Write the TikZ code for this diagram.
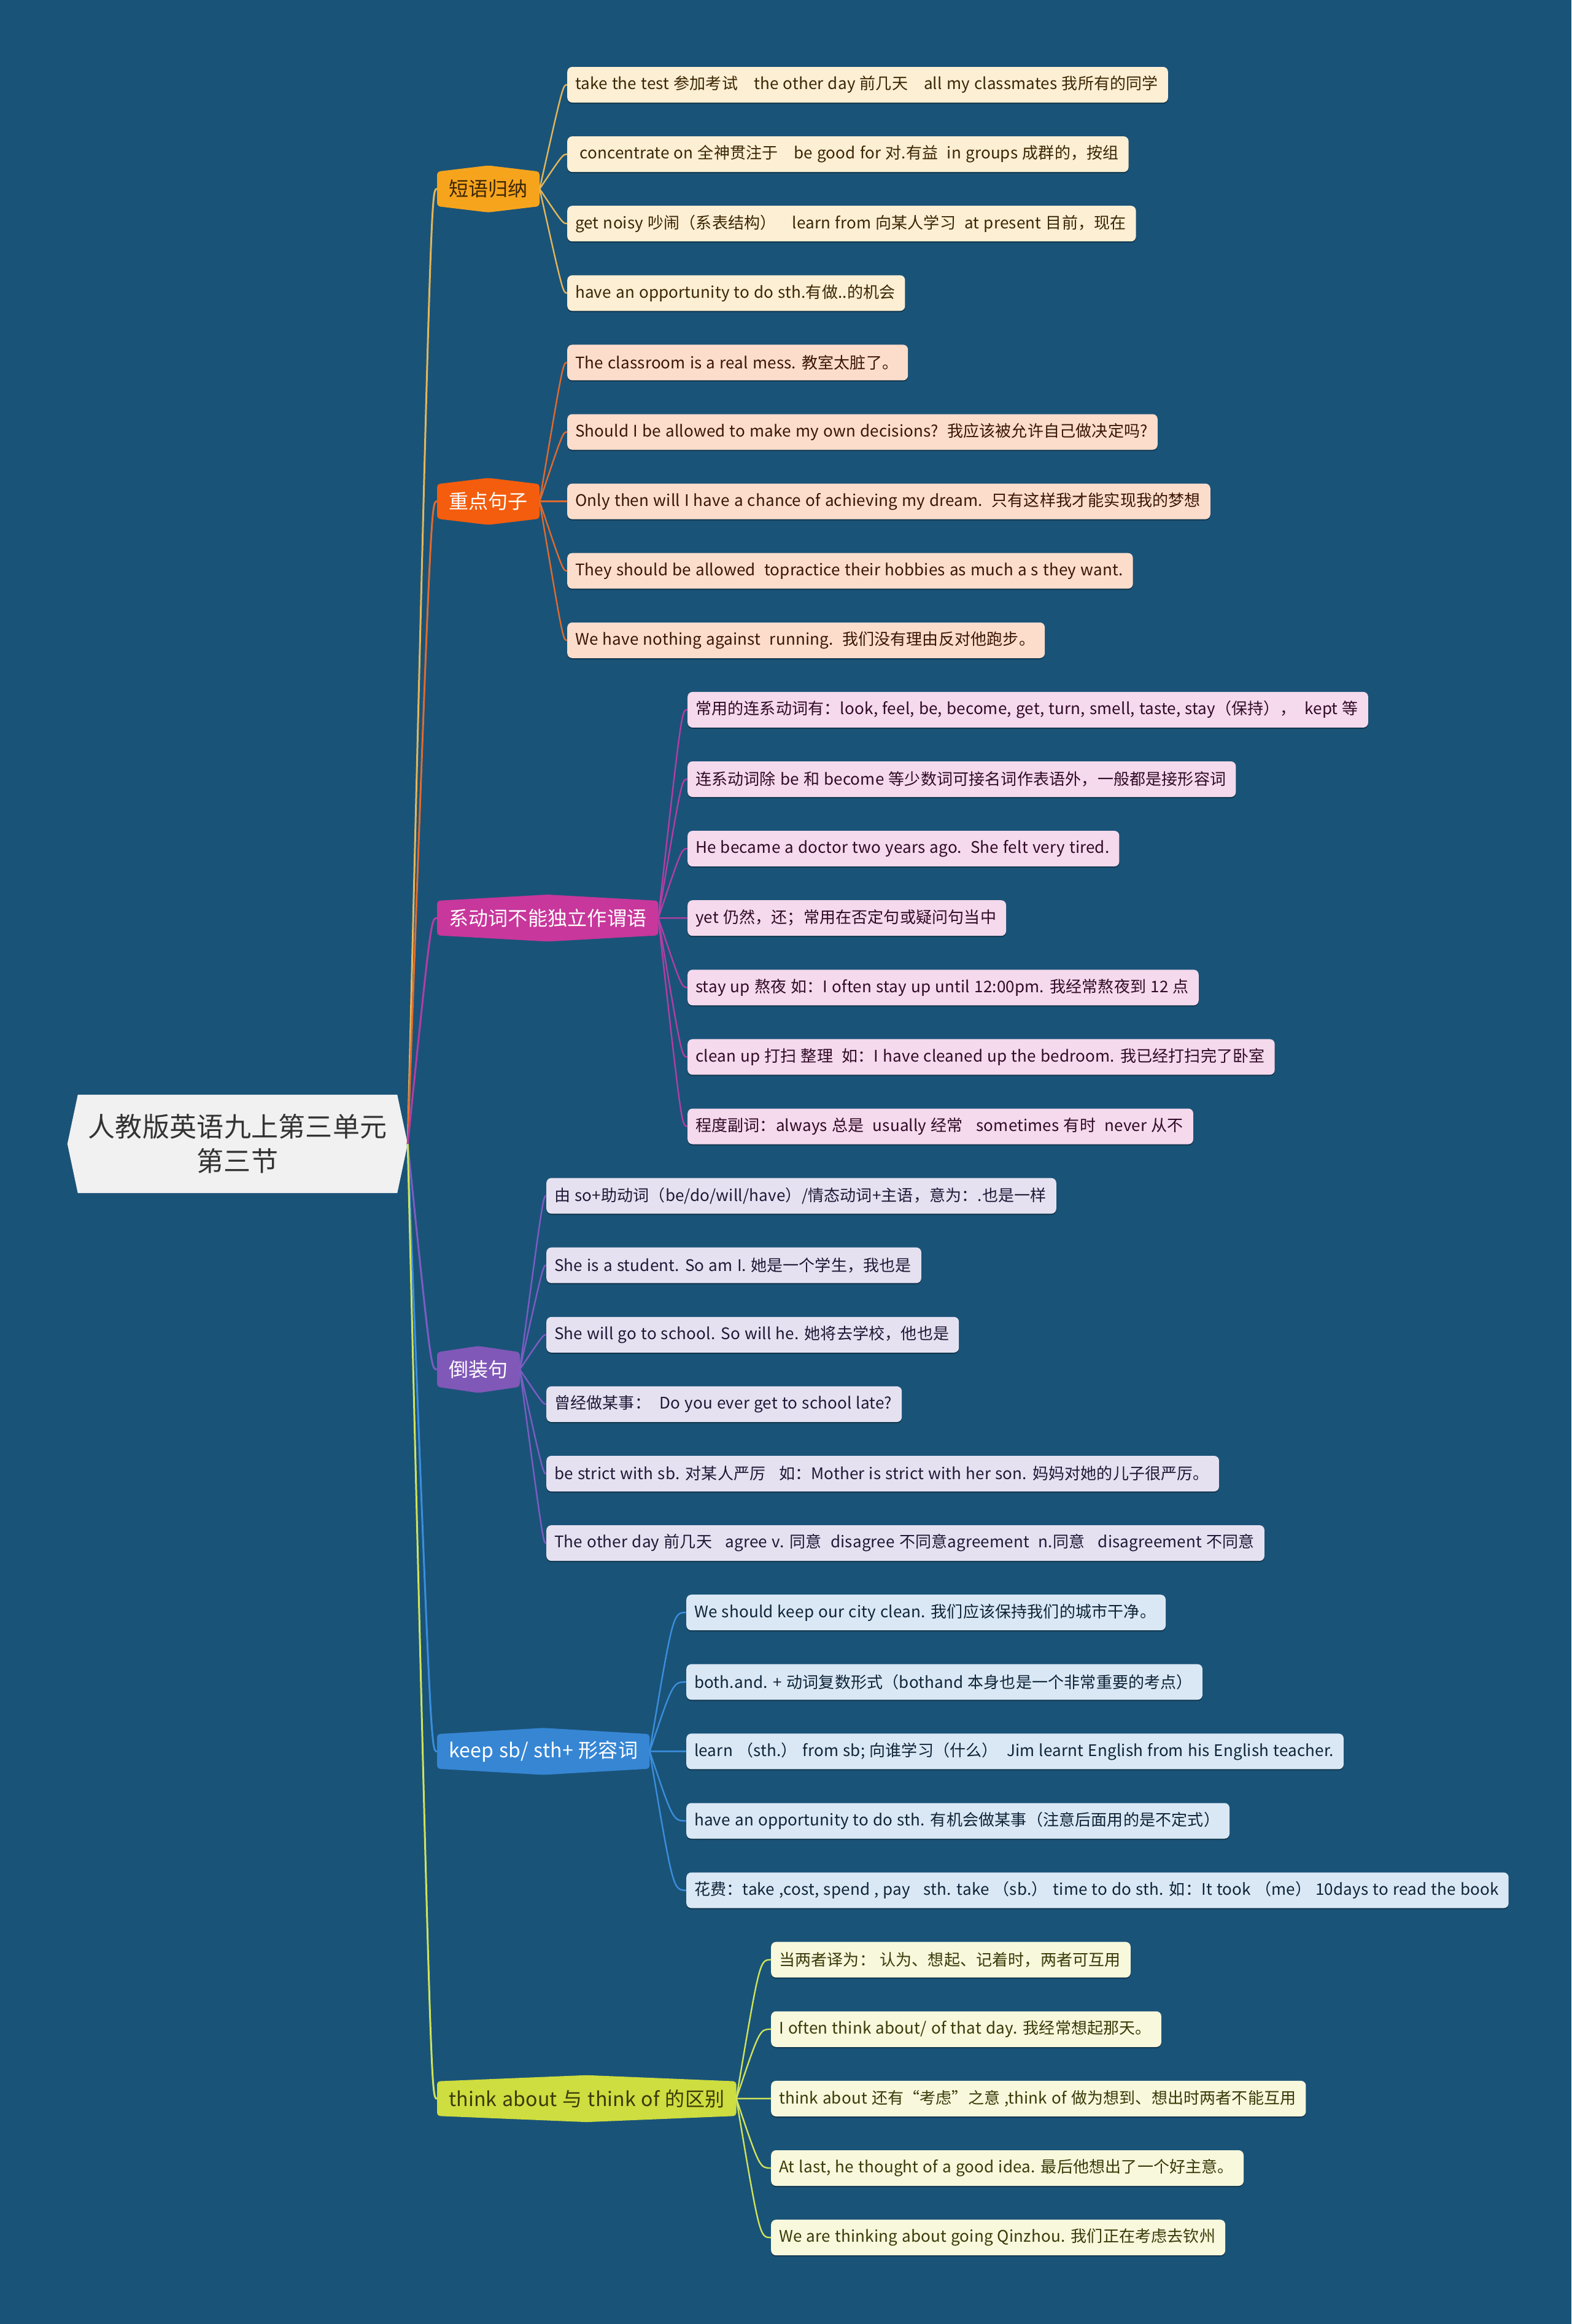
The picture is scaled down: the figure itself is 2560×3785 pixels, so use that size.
\documentclass[tikz,border=0pt]{standalone}
\usepackage{fontspec}
\setmainfont{Noto Sans CJK SC}[LetterSpace=0.7,WordSpace=1.2]
\usetikzlibrary{calc,backgrounds,shadows}
\definecolor{bgblue}{HTML}{1A5378}
\definecolor{rootfill}{HTML}{F1F1F1}
\definecolor{roottext}{HTML}{333333}
\definecolor{phrnode}{HTML}{F7A41D}
\definecolor{phrline}{HTML}{E2B65A}
\definecolor{phrfill}{HTML}{FDEFD3}
\definecolor{phrtext}{HTML}{3B2604}
\definecolor{sennode}{HTML}{F35D0D}
\definecolor{senline}{HTML}{E06A2E}
\definecolor{senfill}{HTML}{FCDDCC}
\definecolor{sentext}{HTML}{3B1505}
\definecolor{copnode}{HTML}{C8379B}
\definecolor{copline}{HTML}{B23DA5}
\definecolor{copfill}{HTML}{F5D9EC}
\definecolor{coptext}{HTML}{300A26}
\definecolor{invnode}{HTML}{8058B8}
\definecolor{invline}{HTML}{7D5CC3}
\definecolor{invfill}{HTML}{E6E1F1}
\definecolor{invtext}{HTML}{1E1935}
\definecolor{keepnode}{HTML}{3686D4}
\definecolor{keepline}{HTML}{3A8EDC}
\definecolor{keepfill}{HTML}{DAE8F5}
\definecolor{keeptext}{HTML}{0F2438}
\definecolor{thinknode}{HTML}{CEDD3F}
\definecolor{thinkline}{HTML}{CFE35A}
\definecolor{thinkfill}{HTML}{F7F8DC}
\definecolor{thinktext}{HTML}{3A3A08}
\tikzset{
  rootbox/.style={font=\fontsize{44}{56}\selectfont,text=roottext,align=center,minimum width=554,minimum height=160,inner sep=0},
  topic/.style={font=\fontsize{32}{38}\selectfont,anchor=west,minimum height=56,inner xsep=19,inner ysep=0},
  leaf/.style={font=\fontsize{26}{30}\selectfont,anchor=west,rounded corners=8,minimum height=58,inner xsep=13,inner ysep=0,
    execute at end node={\hspace{3pt}},
    drop shadow={shadow xshift=0pt,shadow yshift=-2pt,opacity=0.35,fill=black}},
  link/.style={line width=3},
  twig/.style={line width=2.4}
}

\begin{document}
\begin{tikzpicture}[x=1pt,y=-1pt]
\path[use as bounding box] (0,0) rectangle (2560,3785);

% root and topics
\node[rootbox] (root) at (387,1863) {人教版英语九上第三单元\\第三节};
\node[topic,text=phrtext] (phr) at (712,307.7) {短语归纳};
\node[topic,text=white] (sen) at (712,816.6) {重点句子};
\node[topic,text=white] (cop) at (712,1495.2) {系动词不能独立作谓语};
\node[topic,text=white] (inv) at (712,2230.4) {倒装句};
\node[topic,text=white] (keep) at (712,2852.4) {keep sb/ sth+ 形容词};
\node[topic,text=thinktext] (think) at (712,3417.9) {think about 与 think of 的区别};

\foreach \t/\c in {phr/phrline,sen/senline,cop/copline,inv/invline,keep/keepline,think/thinkline}
  \draw[link,\c] (root.east) .. controls ($(root.east |- \t.west)+(38,0)$) .. (\t.west);

% 短语归纳
\foreach \txt [count=\k from 0] in {
  {take the test 参加考试\quad the other day 前几天\quad all my classmates 我所有的同学},
  {\ concentrate on 全神贯注于\quad be good for 对.有益\ \ in groups 成群的，按组},
  {get noisy 吵闹（系表结构）\quad learn from 向某人学习\ \ at present 目前，现在},
  {have an opportunity to do sth.有做..的机会\quad}}{
  \node[leaf,fill=phrfill,text=phrtext] (phr-\k) at (924,{138+113.1*\k}) {\txt};
  \draw[twig,phrline] (phr.east) .. controls ($(phr.east |- phr-\k.west)+(38,0)$) .. (phr-\k.west);
}
% 重点句子
\foreach \txt [count=\k from 0] in {
  {The classroom is a real mess. 教室太脏了。},
  {Should I be allowed to make my own decisions?\ \ 我应该被允许自己做决定吗?},
  {Only then will I have a chance of achieving my dream.\ \ 只有这样我才能实现我的梦想},
  {They should be allowed\ \ topractice their hobbies as much a s they want.},
  {We have nothing against\ \ running.\ \ 我们没有理由反对他跑步。}}{
  \node[leaf,fill=senfill,text=sentext] (sen-\k) at (924,{590.4+113.1*\k}) {\txt};
  \draw[twig,senline] (sen.east) .. controls ($(sen.east |- sen-\k.west)+(38,0)$) .. (sen-\k.west);
}
% 系动词
\foreach \txt [count=\k from 0] in {
  {常用的连系动词有：look, feel, be, become, get, turn, smell, taste, stay（保持），\ \ kept 等},
  {连系动词除 be 和 become 等少数词可接名词作表语外，一般都是接形容词},
  {He became a doctor two years ago.\ \ She felt very tired.},
  {yet 仍然，还；常用在否定句或疑问句当中},
  {stay up 熬夜 如：I often stay up until 12:00pm. 我经常熬夜到 12 点},
  {clean up 打扫 整理\ \ 如：I have cleaned up the bedroom. 我已经打扫完了卧室},
  {程度副词：always 总是\ \ usually 经常\ \ \ sometimes 有时\ \ never 从不}}{
  \node[leaf,fill=copfill,text=coptext] (cop-\k) at (1120,{1155.9+113.1*\k}) {\txt};
  \draw[twig,copline] (cop.east) .. controls ($(cop.east |- cop-\k.west)+(38,0)$) .. (cop-\k.west);
}
% 倒装句
\foreach \txt [count=\k from 0] in {
  {由 so+助动词（be/do/will/have）/情态动词+主语，意为：.也是一样},
  {She is a student. So am I. 她是一个学生，我也是},
  {She will go to school. So will he. 她将去学校，他也是},
  {曾经做某事：\ \ Do you ever get to school late?},
  {be strict with sb. 对某人严厉\ \ \ 如：Mother is strict with her son. 妈妈对她的儿子很严厉。},
  {The other day 前几天\ \ \ agree v. 同意\ \ disagree 不同意agreement\ \ n.同意\ \ \ disagreement 不同意}}{
  \node[leaf,fill=invfill,text=invtext] (inv-\k) at (890,{1947.6+113.1*\k}) {\txt};
  \draw[twig,invline] (inv.east) .. controls ($(inv.east |- inv-\k.west)+(38,0)$) .. (inv-\k.west);
}
% keep
\foreach \txt [count=\k from 0] in {
  {We should keep our city clean. 我们应该保持我们的城市干净。},
  {both.and. + 动词复数形式（bothand 本身也是一个非常重要的考点）},
  {learn （sth.） from sb; 向谁学习（什么）\ \ Jim learnt English from his English teacher.},
  {have an opportunity to do sth. 有机会做某事（注意后面用的是不定式）},
  {花费：take ,cost, spend , pay\ \ \ sth. take （sb.） time to do sth. 如：It took （me） 10days to read the book}}{
  \node[leaf,fill=keepfill,text=keeptext] (keep-\k) at (1118,{2626.2+113.1*\k}) {\txt};
  \draw[twig,keepline] (keep.east) .. controls ($(keep.east |- keep-\k.west)+(38,0)$) .. (keep-\k.west);
}
% think about / think of
\foreach \txt [count=\k from 0] in {
  {当两者译为： 认为、想起、记着时，两者可互用},
  {I often think about/ of that day. 我经常想起那天。},
  {think about 还有“考虑”之意 ,think of 做为想到、想出时两者不能互用},
  {At last, he thought of a good idea. 最后他想出了一个好主意。},
  {We are thinking about going Qinzhou. 我们正在考虑去钦州}}{
  \node[leaf,fill=thinkfill,text=thinktext] (think-\k) at (1256,{3191.7+113.1*\k}) {\txt};
  \draw[twig,thinkline] (think.east) .. controls ($(think.east |- think-\k.west)+(38,0)$) .. (think-\k.west);
}

% shapes behind
\begin{scope}[on background layer]
\fill[bgblue] (0,0) rectangle (2560,3785);
\fill[rootfill] (root.west) -- ($(root.north west)+(17,0)$) -- ($(root.north east)+(-17,0)$) -- (root.east)
  -- ($(root.south east)+(-17,0)$) -- ($(root.south west)+(17,0)$) -- cycle;
\foreach \t/\c in {phr/phrnode,sen/sennode,cop/copnode,inv/invnode,keep/keepnode,think/thinknode}
  \fill[\c,rounded corners=5] (\t.north west) -- ($(\t.north)+(0,-10)$) -- (\t.north east) -- (\t.south east)
    -- ($(\t.south)+(0,10)$) -- (\t.south west) -- cycle;
\end{scope}
\end{tikzpicture}
\end{document}
